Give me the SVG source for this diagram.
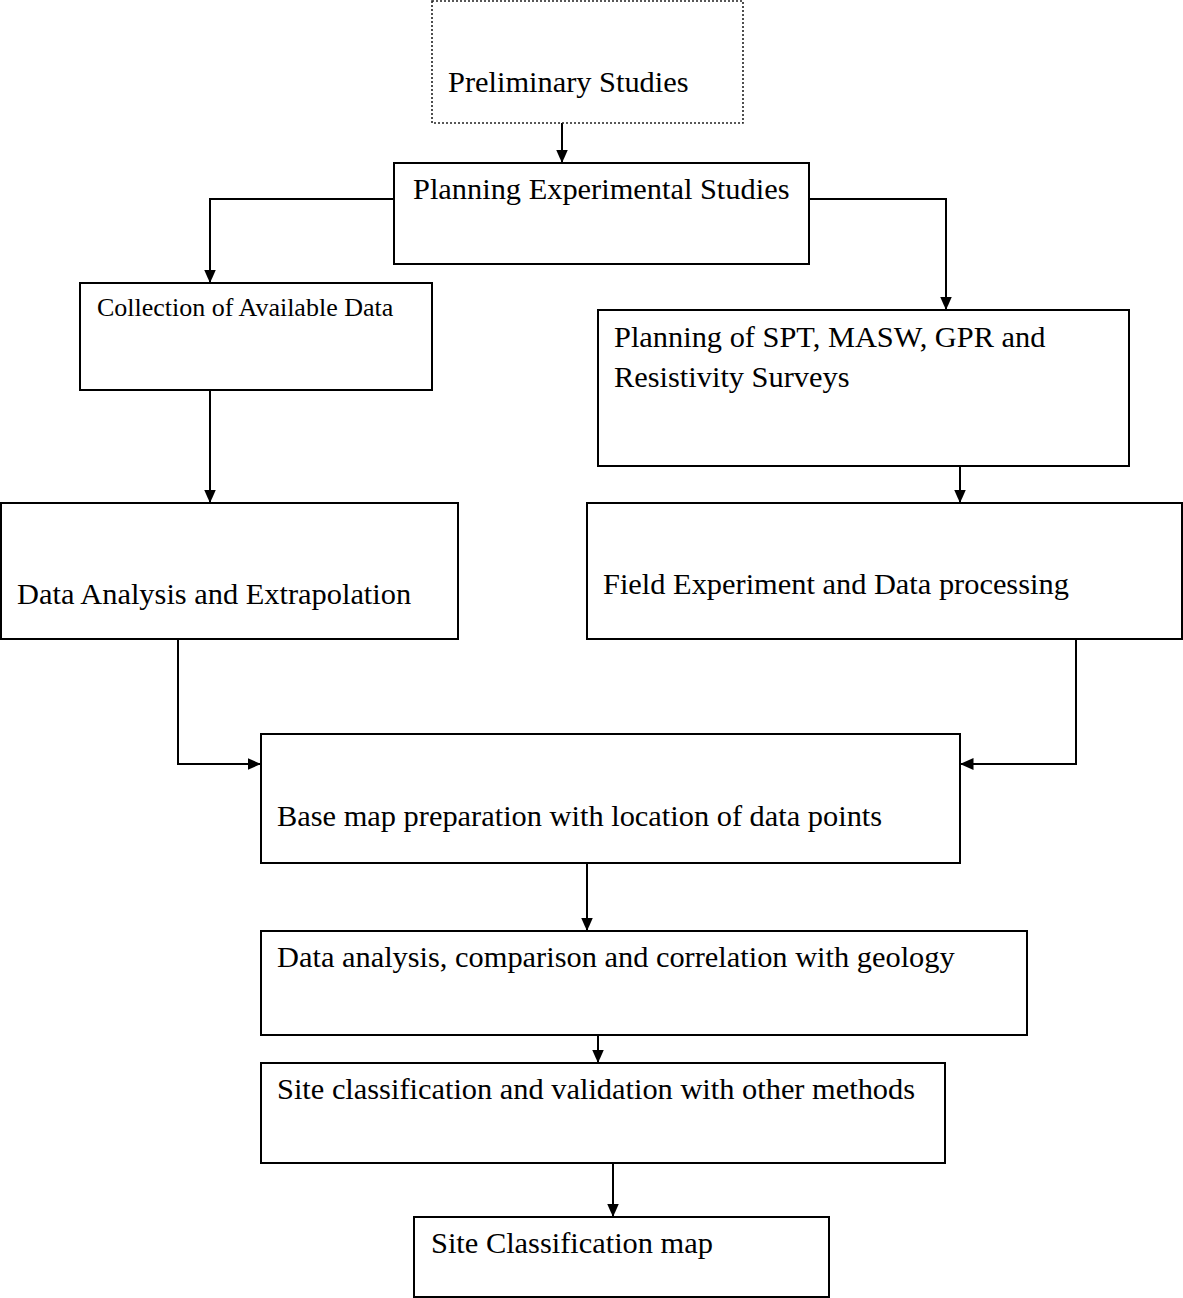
<svg xmlns="http://www.w3.org/2000/svg" width="1183" height="1298" viewBox="0 0 1183 1298">
<style>
.box{fill:#fff;stroke:#000;stroke-width:2}
.dot{fill:#fff;stroke:#222;stroke-width:1.6;stroke-dasharray:2 2}
.t{font-family:"Liberation Serif","Times New Roman",serif;font-size:30.4px;fill:#000}
.ts{font-family:"Liberation Serif","Times New Roman",serif;font-size:26px;fill:#000}
.c{fill:none;stroke:#000;stroke-width:2;marker-end:url(#ah)}
</style>
<defs>
<marker id="ah" markerUnits="userSpaceOnUse" markerWidth="14" markerHeight="13" refX="13.5" refY="6.5" orient="auto" viewBox="0 0 14 13">
<path d="M0,0.5 L13.5,6.5 L0,12.5 z" fill="#000"/>
</marker>
</defs>
<rect width="1183" height="1298" fill="#fff"/>
<g id="connectors">
<path class="c" d="M562,123 V163"/>
<path class="c" d="M394,199 H210 V283"/>
<path class="c" d="M809,199 H946 V310"/>
<path class="c" d="M210,390 V503"/>
<path class="c" d="M960,466 V503"/>
<path class="c" d="M178,639 V764 H261"/>
<path class="c" d="M1076,639 V764 H960"/>
<path class="c" d="M587,863 V931"/>
<path class="c" d="M598,1035 V1063"/>
<path class="c" d="M613,1163 V1217"/>
</g>
<g id="preliminary">
<rect class="dot" x="432" y="1" width="311" height="122"/>
<text class="t" x="448" y="92">Preliminary Studies</text>
</g>
<g id="planning">
<rect class="box" x="394" y="163" width="415" height="101"/>
<text class="t" x="413" y="199">Planning Experimental Studies</text>
</g>
<g id="collection">
<rect class="box" x="80" y="283" width="352" height="107"/>
<text class="ts" x="97" y="316">Collection of Available Data</text>
</g>
<g id="planning-surveys">
<rect class="box" x="598" y="310" width="531" height="156"/>
<text class="t" x="614" y="347">Planning of SPT, MASW, GPR and</text>
<text class="t" x="614" y="387">Resistivity Surveys</text>
</g>
<g id="data-analysis-extrapolation">
<rect class="box" x="1" y="503" width="457" height="136"/>
<text class="t" x="17" y="604">Data Analysis and Extrapolation</text>
</g>
<g id="field-experiment">
<rect class="box" x="587" y="503" width="595" height="136"/>
<text class="t" x="603" y="594">Field Experiment and Data processing</text>
</g>
<g id="base-map">
<rect class="box" x="261" y="734" width="699" height="129"/>
<text class="t" x="277" y="826">Base map preparation with location of data points</text>
</g>
<g id="data-analysis-geology">
<rect class="box" x="261" y="931" width="766" height="104"/>
<text class="t" x="277" y="967">Data analysis, comparison and correlation with geology</text>
</g>
<g id="site-classification-validation">
<rect class="box" x="261" y="1063" width="684" height="100"/>
<text class="t" x="277" y="1099">Site classification and validation with other methods</text>
</g>
<g id="site-classification-map">
<rect class="box" x="414" y="1217" width="415" height="80"/>
<text class="t" x="431" y="1253">Site Classification map</text>
</g>
</svg>
